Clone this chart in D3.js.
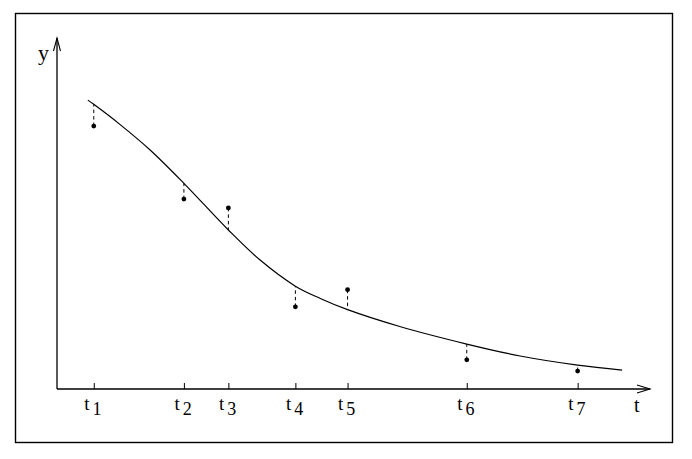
<!DOCTYPE html>
<html>
<head>
<meta charset="utf-8">
<script src="https://cdn.jsdelivr.net/npm/d3@7"></script>
<style>
html,body{margin:0;padding:0;background:#fff;}
svg{display:block;}
text{font-family:"Liberation Serif","DejaVu Serif",serif;fill:#000;}
</style>
</head>
<body>
<svg id="chart" width="692" height="459"></svg>
<script>
// Measurement times (tick positions) and labels
const tickLabels = ["1","2","3","4","5","6","7"];
const tValues = [6.2, 21.4, 28.9, 40.2, 49.0, 69.1, 87.8];
// Observed data points
const observed = [74.9, 54.1, 51.6, 23.4, 28.3, 8.3, 5.1];
// Fitted curve values at the measurement times
const fitted = [81.1, 58.6, 45.3, 29.3, 22.6, 12.8, 6.8];
// Fitted curve samples
const curveT = [5.2, 6.2, 10.6, 15.7, 21.4, 28.9, 34.2, 40.2, 44.4, 49.0, 57.8, 69.1, 78.1, 87.8, 95.3];
const curveY = [82.3, 81.1, 75.4, 68.1, 58.6, 45.3, 36.8, 29.3, 25.8, 22.6, 17.8, 12.8, 9.4, 6.8, 5.4];

const svg = d3.select("#chart");
const x = d3.scaleLinear().domain([0, 100]).range([57, 650]);
const y = d3.scaleLinear().domain([0, 100]).range([389, 38]);

// frame
svg.append("rect").attr("x", 15.5).attr("y", 13.5).attr("width", 657).attr("height", 429)
  .attr("fill", "none").attr("stroke", "#000").attr("stroke-width", 1.4);

const g = svg.append("g");

// axes lines
g.append("line").attr("x1", x(0)).attr("y1", y(0)).attr("x2", x(100)).attr("y2", y(0))
  .attr("stroke", "#000").attr("stroke-width", 1.3);
g.append("line").attr("x1", x(0)).attr("y1", y(0)).attr("x2", x(0)).attr("y2", y(100))
  .attr("stroke", "#000").attr("stroke-width", 1.3);
// arrowheads
g.append("path").attr("d", `M${x(100)-13},${y(0)-4} L${x(100)},${y(0)} L${x(100)-13},${y(0)+4}`)
  .attr("fill", "none").attr("stroke", "#000").attr("stroke-width", 1.1);
g.append("path").attr("d", `M${x(0)-3.5},${y(100)+13} L${x(0)},${y(100)} L${x(0)+3.5},${y(100)+13}`)
  .attr("fill", "none").attr("stroke", "#000").attr("stroke-width", 1.1);

// ticks via axis
const axis = d3.axisBottom(x).tickValues(tValues).tickSizeInner(-6).tickSizeOuter(0).tickFormat("");
const ax = g.append("g").attr("transform", `translate(0,${y(0)})`).call(axis);
ax.select(".domain").remove();
ax.selectAll(".tick line").attr("stroke", "#000").attr("stroke-width", 1);

// tick labels t_i
const lab = g.selectAll("text.tl").data(tValues).enter().append("text")
  .attr("class", "tl")
  .attr("x", d => x(d) - 9.5).attr("y", 410)
  .attr("font-size", 19);
lab.append("tspan").text("t");
lab.append("tspan").attr("dx", 3).attr("dy", 5).attr("font-size", 18).text((d, i) => tickLabels[i]);

// axis labels
g.append("text").attr("x", 634).attr("y", 412).attr("font-size", 20).text("t");
g.append("text").attr("x", 38).attr("y", 60).attr("font-size", 22).text("y");

// fitted curve
const pts = curveT.map((t, i) => [t, curveY[i]]);
const line = d3.line().x(d => x(d[0])).y(d => y(d[1])).curve(d3.curveCatmullRom.alpha(0.5));
g.append("path").datum(pts).attr("d", line).attr("fill", "none")
  .attr("stroke", "#000").attr("stroke-width", 1.2);

// residual dashed lines
g.selectAll("line.res").data(tValues).enter().append("line")
  .attr("class", "res")
  .attr("x1", d => x(d)).attr("x2", d => x(d))
  .attr("y1", (d, i) => y(observed[i])).attr("y2", (d, i) => y(fitted[i]))
  .attr("stroke", "#000").attr("stroke-width", 1).attr("stroke-dasharray", "3.5,3");

// observed points
g.selectAll("circle.pt").data(tValues).enter().append("circle")
  .attr("class", "pt")
  .attr("cx", d => x(d)).attr("cy", (d, i) => y(observed[i])).attr("r", 2.4)
  .attr("fill", "#000");
</script>
</body>
</html>
